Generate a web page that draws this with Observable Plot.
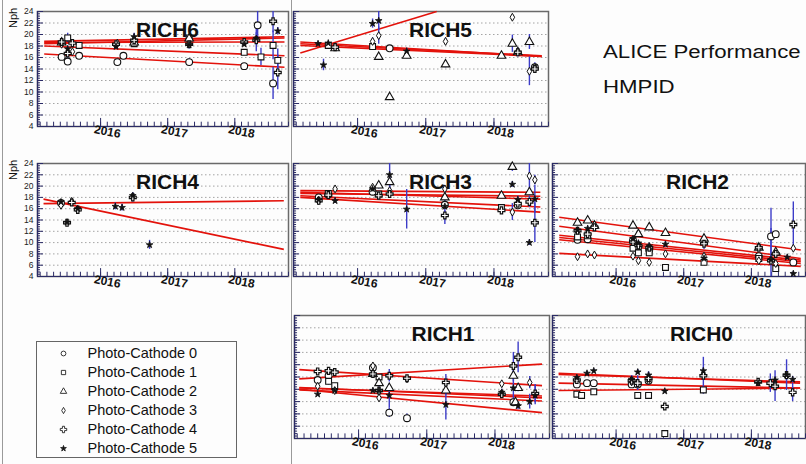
<!DOCTYPE html>
<html><head><meta charset="utf-8">
<script src="https://cdn.jsdelivr.net/npm/d3@7"></script>
<script src="https://cdn.jsdelivr.net/npm/@observablehq/plot@0.6"></script>
<style>
body{margin:0;background:#fff;}
#c{position:relative;width:806px;height:464px;overflow:hidden;background:#fdfdfd;font-family:"Liberation Sans",Arial,sans-serif;}
.abs{position:absolute;}
.big{font-size:17.5px;color:#111;transform-origin:left center;transform:scaleX(1.27);white-space:nowrap;}
.nph{font-size:11px;color:#111;transform:rotate(-90deg);transform-origin:center;}
</style></head><body><div id="c"></div>
<script>
// ---------------- DATA ----------------
const cathodes = ["Photo-Cathode 0","Photo-Cathode 1","Photo-Cathode 2","Photo-Cathode 3","Photo-Cathode 4","Photo-Cathode 5"];
const yearTicks = [2016, 2017, 2018];
const nphTicks = [4,6,8,10,12,14,16,18,20,22,24];
const xDomain = [2015.06, 2018.8];
const yDomain = [4, 24];

// rows: [cathode, year, Nph, error]
const rich6 = [
 [0,2015.42,16.1,0.3],[0,2015.51,15.3,0.6],[0,2015.68,16.3,0.3],[0,2016.25,15.2,0.3],[0,2016.34,16.3,0.4],[0,2017.32,15.2,0.6],[0,2018.14,14.5,0.3],[0,2018.34,21.6,2.6],[0,2018.57,11.5,2.8],
 [1,2015.51,19.4,0.8],[1,2015.68,18.1,0.3],[1,2016.50,18.4,0.5],[1,2017.32,19.4,0.5],[1,2018.14,16.9,0.3],[1,2018.39,16.1,1.5],[1,2018.57,18.1,2.5],[1,2018.64,15.5,2.0],
 [2,2015.42,18.6,0.3],[2,2016.50,18.6,0.5],[2,2017.32,19.3,0.4],
 [3,2015.42,18.3,0.3],[3,2015.58,17.0,0.3],[3,2016.25,18.5,0.4],
 [4,2015.42,18.7,0.3],[4,2015.51,16.7,0.8],[4,2015.58,18.5,0.3],[4,2016.23,18.3,0.6],[4,2016.50,19.0,1.0],[4,2017.32,18.3,0.8],[4,2018.14,18.7,0.5],[4,2018.32,19.0,2.0],[4,2018.57,22.3,2.0],[4,2018.64,13.4,3.0],
 [5,2015.51,17.5,0.5],[5,2016.23,17.9,0.5],[5,2016.50,19.6,0.6],[5,2017.32,18.2,0.6],[5,2018.14,18.3,0.4],[5,2018.32,19.3,1.0],[5,2018.64,20.6,0.6]
];
const fit6 = [[2015.16,18.8,2018.74,19.6],[2015.16,18.6,2018.74,18.7],[2015.16,18.0,2018.74,16.3],[2015.16,16.6,2018.74,14.3],[2015.16,18.4,2018.74,19.4]];

const rich5 = [
 [5,2015.42,18.4,0.3],[5,2015.50,14.7,1.0],[5,2015.57,18.5,0.3],[5,2016.22,21.9,0.8],[5,2016.31,22.4,1.6],[5,2016.72,17.1,0.5],
 [2,2015.67,17.6,0.3],[2,2016.31,16.1,0.5],[2,2016.72,16.3,0.5],[2,2017.29,14.8,0.6],[2,2016.47,9.1,0.3],[2,2018.11,16.3,0.3],[2,2018.27,18.4,1.5],[2,2018.35,16.9,0.8],[2,2018.52,18.7,1.3],
 [3,2016.22,18.8,0.6],[3,2016.31,19.8,1.5],[3,2017.29,18.8,0.6],[3,2018.27,23.0,0.3],[3,2018.52,13.6,2.5],[3,2018.60,14.3,0.8],
 [0,2016.47,17.6,0.5],[0,2018.60,14.3,0.5],
 [1,2015.57,18.1,0.3],[1,2016.22,17.9,0.4],
 [4,2015.67,17.8,0.3],[4,2018.35,16.9,0.5],[4,2018.60,14.0,0.6]
];
const fit5 = [[2015.16,16.8,2017.16,24.0],[2015.16,18.7,2018.7,16.2],[2015.16,18.4,2018.7,16.3],[2015.16,18.1,2018.7,16.2]];

const rich4 = [
 [0,2015.41,17.0,0.3],
 [3,2015.41,16.6,0.3],[3,2015.57,17.3,0.3],
 [4,2015.50,13.5,0.6],[4,2015.57,17.1,0.3],[4,2015.66,15.8,0.4],[4,2016.48,18.0,0.8],
 [5,2015.41,17.2,0.3],[5,2015.50,13.6,0.4],[5,2015.66,16.0,0.3],[5,2016.22,16.4,0.6],[5,2016.32,16.2,0.6],[5,2016.48,18.3,0.5],[5,2016.73,9.6,0.8]
];
const fit4 = [[2015.15,16.9,2018.73,17.4],[2015.15,17.7,2018.73,8.8]];

const rich3 = [
 [5,2015.43,17.6,0.3],[5,2015.67,17.4,0.5],[5,2016.22,19.5,0.4],[5,2016.47,22.0,2.5],[5,2016.72,15.9,3.5],[5,2017.28,16.4,3.2],[5,2018.27,20.3,0.5],[5,2018.35,17.6,0.6],[5,2018.52,10.0,0.5],[5,2018.60,17.7,2.5],
 [2,2016.31,20.1,0.6],[2,2016.47,20.7,1.0],[2,2017.28,18.0,0.6],[2,2018.11,18.3,0.3],[2,2018.27,23.4,0.8],[2,2018.52,18.9,0.6],
 [3,2015.43,17.4,0.3],[3,2015.67,19.5,0.4],[3,2016.22,19.8,0.3],[3,2016.47,19.2,0.5],[3,2017.28,19.5,0.5],[3,2018.27,15.4,1.5],[3,2018.52,21.8,2.5],[3,2018.60,21.1,0.8],
 [0,2015.43,18.0,0.3],[0,2015.57,18.5,0.3],[0,2016.22,19.0,0.3],[0,2017.28,16.7,0.5],[0,2018.35,16.6,0.5],
 [1,2015.57,18.7,0.3],[1,2016.31,18.6,0.4],[1,2018.11,16.2,0.4],
 [4,2015.43,17.4,0.3],[4,2015.57,18.4,0.3],[4,2016.31,18.3,0.8],[4,2016.47,18.6,0.8],[4,2017.28,14.8,0.8],[4,2018.11,15.7,0.3],[4,2018.35,16.9,0.6],[4,2018.52,17.2,1.0],[4,2018.60,13.5,3.5]
];
const fit3 = [[2015.16,19.2,2018.68,18.9],[2015.16,18.9,2018.68,17.7],[2015.16,18.3,2018.68,16.3],[2015.16,18.0,2018.68,15.4],[2015.16,18.7,2018.68,18.2]];

const rich2 = [
 [2,2015.43,13.5,0.3],[2,2015.58,13.9,0.3],[2,2015.68,13.0,0.3],[2,2016.25,13.0,0.3],[2,2016.33,11.5,0.4],[2,2016.49,12.7,0.5],[2,2016.73,11.7,0.3],[2,2017.30,10.7,0.6],[2,2018.11,9.1,0.3],[2,2018.36,8.3,0.5],
 [0,2015.43,10.5,0.3],[0,2015.58,10.6,0.3],[0,2016.25,10.4,0.3],[0,2016.33,9.3,0.4],[0,2016.49,8.7,0.5],[0,2018.11,7.6,0.4],[0,2018.29,11.1,5.0],[0,2018.36,11.5,0.4],[0,2018.62,6.5,0.5],
 [1,2015.43,11.0,0.3],[1,2015.58,11.2,0.3],[1,2016.25,9.0,0.3],[1,2016.33,8.2,0.4],[1,2016.49,8.2,0.5],[1,2016.73,5.6,0.3],[1,2017.30,6.5,0.5],[1,2018.11,7.2,0.4],[1,2018.36,5.4,0.4],
 [3,2015.43,7.5,0.3],[3,2015.58,8.0,0.3],[3,2015.68,7.8,0.3],[3,2016.25,7.6,0.3],[3,2016.33,6.8,0.3],[3,2016.49,6.5,0.3],[3,2016.73,8.0,0.3],[3,2017.30,7.6,0.5],[3,2018.11,6.8,0.3],[3,2018.36,6.3,0.4],[3,2018.62,9.0,0.3],
 [4,2015.43,12.1,0.3],[4,2015.58,11.5,0.3],[4,2015.68,12.7,0.3],[4,2016.25,10.1,0.3],[4,2016.33,9.5,0.5],[4,2016.49,9.1,0.6],[4,2017.30,9.8,1.0],[4,2018.11,9.1,0.4],[4,2018.29,6.8,0.5],[4,2018.36,8.0,0.5],[4,2018.62,13.2,4.0],
 [5,2015.43,12.2,0.3],[5,2015.58,12.5,0.3],[5,2016.25,10.7,0.3],[5,2016.33,9.9,0.4],[5,2016.49,9.4,0.5],[5,2016.73,9.7,0.5],[5,2017.30,7.2,0.5],[5,2018.29,7.0,5.5],[5,2018.53,7.4,0.4],[5,2018.62,4.5,0.3]
];
const fit2 = [[2015.16,14.5,2018.73,8.7],[2015.16,12.9,2018.73,7.2],[2015.16,11.3,2018.73,6.9],[2015.16,10.9,2018.73,6.6],[2015.16,10.5,2018.73,6.3],[2015.16,8.1,2018.73,5.8]];

const rich1 = [
 [0,2015.40,13.5,0.3],[0,2015.56,14.2,0.3],[0,2016.21,15.5,0.3],[0,2016.45,8.2,0.8],[0,2016.71,7.3,0.7],[0,2018.27,9.9,0.5],
 [1,2015.56,13.3,0.6],[1,2015.65,12.6,0.3],[1,2016.30,14.0,0.3],
 [2,2016.21,14.5,0.3],[2,2016.30,13.0,0.5],[2,2016.45,12.2,0.6],[2,2017.28,11.8,0.8],[2,2018.27,14.2,1.0],[2,2018.34,12.2,0.6],[2,2018.30,9.9,0.4],
 [3,2015.40,12.5,0.3],[3,2015.65,11.8,0.3],[3,2016.21,15.8,0.3],[3,2016.30,10.6,0.4],[3,2016.71,13.7,0.3],[3,2018.10,12.9,0.4],[3,2018.51,13.1,1.0],
 [4,2015.40,14.9,0.3],[4,2015.56,15.0,0.3],[4,2015.65,14.8,0.3],[4,2016.21,14.5,0.4],[4,2016.30,11.8,0.6],[4,2016.45,14.2,1.0],[4,2016.71,13.8,0.3],[4,2017.28,13.1,1.3],[4,2018.10,11.2,0.5],[4,2018.27,15.8,2.2],[4,2018.34,17.2,2.5],[4,2018.59,11.3,1.5],
 [5,2015.40,11.2,0.3],[5,2015.65,11.8,0.3],[5,2016.21,11.8,0.3],[5,2016.30,11.8,0.4],[5,2016.45,11.0,2.0],[5,2017.28,9.5,2.5],[5,2018.10,11.5,0.5],[5,2018.27,12.2,2.0],[5,2018.34,9.3,0.6],[5,2018.51,10.0,1.2],[5,2018.59,11.0,1.5]
];
const fit1 = [[2015.13,15.2,2018.69,12.6],[2015.13,13.7,2018.69,16.1],[2015.13,12.3,2018.69,10.6],[2015.13,11.9,2018.69,10.1],[2015.13,12.0,2018.69,8.2],[2015.13,12.2,2018.69,10.9]];

const rich0 = [
 [5,2015.42,13.9,0.3],[5,2015.57,14.6,0.3],[5,2015.67,15.0,0.3],[5,2016.23,13.6,0.6],[5,2016.32,14.8,0.4],[5,2016.48,14.3,0.5],[5,2016.72,11.7,0.3],[5,2017.29,15.0,0.5],[5,2018.10,13.0,0.4],[5,2018.35,13.5,0.5],[5,2018.52,14.3,0.5],[5,2018.61,13.6,0.5],
 [0,2015.42,12.8,0.3],[0,2015.57,13.0,0.3],[0,2015.67,13.0,0.3],[0,2016.23,12.8,0.3],[0,2016.32,12.8,0.3],[0,2016.48,13.4,0.3],
 [1,2015.42,11.2,0.3],[1,2015.49,11.0,0.3],[1,2015.67,11.6,0.3],[1,2016.32,11.0,0.3],[1,2016.48,11.0,0.3],[1,2016.72,4.8,0.3],[1,2017.29,11.9,0.5],
 [3,2016.48,13.4,0.3],[3,2016.23,13.2,0.3],
 [4,2015.42,13.5,0.3],[4,2016.23,13.4,0.8],[4,2016.32,13.0,1.2],[4,2016.48,13.8,1.0],[4,2016.72,9.2,0.3],[4,2017.29,14.2,3.0],[4,2018.10,13.2,0.3],[4,2018.28,13.0,1.5],[4,2018.35,12.5,2.5],[4,2018.52,14.3,2.5],[4,2018.61,11.5,1.5]
];
const fit0 = [[2015.15,14.6,2018.72,13.0],[2015.15,14.4,2018.72,13.2],[2015.15,13.0,2018.72,12.2],[2015.15,11.8,2018.72,12.2]];

// ---------------- STYLE ----------------
const symbols = [
  {symbol:"circle",  r:3.4, fill:"white", sw:1.1, lr:2.4},
  {symbol:"square",  r:3.3, fill:"white", sw:1.1, lr:2.4},
  {symbol:"triangle",r:3.2, fill:"white", sw:1.1, lr:2.4},
  {symbol:"diamond", r:2.4, fill:"white", sw:1.0, lr:1.9},
  {symbol:"cross",   r:2.9, fill:"white", sw:1.2, lr:2.7},
  {symbol:"star",    r:2.1, fill:"#111",  sw:0.8, lr:1.8}
];
const AX = "#2b2b66", ERR = "#3c3cc8", FIT = "#e3120b";

const container = document.getElementById("c");

function panel(name, pts, fits, fr, showY, titleDx) {
  const mL = 30, mT = 6, mR = 4, mB = 22;
  const W = fr.r - fr.l, H = fr.b - fr.t;
  const rows = pts.map(([c, x, y, e]) => ({c, x, y, e}));
  const lines = fits.map(([x1, y1, x2, y2]) => ({x1, y1, x2, y2}));
  const minorX = d3.range(2015.1, 2018.8, 0.1);
  const minorY = d3.range(4, 24.01, 0.4);
  const marks = [
    Plot.ruleY(nphTicks.slice(1, -1), {y: d => d, stroke: "#9a9a9a", strokeDasharray: "1.5,2.5", strokeWidth: 0.9}),
    Plot.frame({stroke: "#6a6a6a", strokeWidth: 1.5}),
    Plot.ruleY([yDomain[0]], {stroke: AX, strokeWidth: 1.2}),
    Plot.ruleX([xDomain[0]], {stroke: AX, strokeWidth: 1.2}),
    Plot.ruleX(minorX, {x: d => d, y1: 4, y2: 4.75, stroke: AX, strokeWidth: 1}),
    Plot.ruleX(yearTicks, {x: d => d, y1: 4, y2: 5.4, stroke: AX, strokeWidth: 1}),
    Plot.ruleY(minorY, {y: d => d, x1: xDomain[0], x2: xDomain[0] + 0.045, stroke: AX, strokeWidth: 1}),
    Plot.ruleY(nphTicks, {y: d => d, x1: xDomain[0], x2: xDomain[0] + 0.09, stroke: AX, strokeWidth: 1}),
    Plot.text(yearTicks, {x: d => d, frameAnchor: "bottom", dy: 9, dx: 6, rotate: 11, fontWeight: "bold", fontSize: 12, fill: "#111", text: d => String(d)}),
    Plot.link(lines, {x1: "x1", y1: "y1", x2: "x2", y2: "y2", stroke: FIT, strokeWidth: 1.6}),
    Plot.ruleX(rows.filter(d => d.e > 0), {x: "x", y1: d => Math.max(4, d.y - d.e), y2: d => Math.min(24, d.y + d.e), stroke: ERR, strokeWidth: 1.4})
  ];
  symbols.forEach((s, i) => {
    marks.push(Plot.dot(rows.filter(d => d.c === i), {x: "x", y: "y", symbol: s.symbol, r: s.r, fill: s.fill, stroke: "#111", strokeWidth: s.sw}));
  });
  if (showY) marks.push(Plot.text(nphTicks, {y: d => d, frameAnchor: "left", dx: -4, textAnchor: "end", fontSize: 8.5, fill: "#222", text: d => String(d)}));
  marks.push(Plot.text([name], {frameAnchor: "top", dy: 10.5, dx: titleDx, fontSize: 21, fontWeight: "bold", fill: "#111", text: d => d}));
  const svg = Plot.plot({
    width: W + mL + mR, height: H + mT + mB,
    marginLeft: mL, marginTop: mT, marginRight: mR, marginBottom: mB,
    x: {domain: xDomain, axis: null},
    y: {domain: yDomain, axis: null},
    style: {background: "transparent", overflow: "visible", fontFamily: "'Liberation Sans', Arial, sans-serif"},
    marks
  });
  svg.style.position = "absolute";
  svg.style.left = (fr.l - mL) + "px";
  svg.style.top = (fr.t - mT) + "px";
  svg.style.maxWidth = "none";
  container.appendChild(svg);
}

// pad separators
function vline(x, y0, y1) {
  const d = document.createElement("div");
  d.className = "abs";
  d.style.cssText = `left:${x}px;top:${y0}px;width:1px;height:${y1 - y0}px;background:#9a9a9a;`;
  container.appendChild(d);
}
vline(2, 0, 464);
vline(291, 0, 464);

panel("RICH6", rich6, fit6, {l: 37, r: 288, t: 11, b: 126}, true, 4.5);
panel("RICH5", rich5, fit5, {l: 293, r: 548, t: 11, b: 126}, false, 19.5);
panel("RICH4", rich4, fit4, {l: 37, r: 288, t: 163, b: 276}, true, 4.5);
panel("RICH3", rich3, fit3, {l: 293, r: 548, t: 163, b: 276}, false, 19.5);
panel("RICH2", rich2, fit2, {l: 552, r: 805, t: 163, b: 276}, false, 18.5);
panel("RICH1", rich1, fit1, {l: 294, r: 549, t: 315, b: 438}, false, 21);
panel("RICH0", rich0, fit0, {l: 552, r: 805, t: 315, b: 438}, false, 22.5);

// Nph axis titles
[{y: 19}, {y: 171}].forEach(p => {
  const d = document.createElement("div");
  d.className = "abs nph";
  d.textContent = "Nph";
  d.style.left = "3px"; d.style.top = (p.y - 7) + "px"; d.style.width = "20px"; d.style.textAlign = "center";
  container.appendChild(d);
});

// Performance labels
[["ALICE Performance", 52], ["HMPID", 87]].forEach(([t, y]) => {
  const d = document.createElement("div");
  d.className = "abs big";
  d.textContent = t;
  d.style.left = "603px"; d.style.top = (y - 10) + "px";
  container.appendChild(d);
});

// Legend
const leg = document.createElement("div");
leg.className = "abs";
leg.style.cssText = "left:36px;top:341px;width:201px;height:117px;border:1px solid #666;background:#fdfdfd;box-sizing:border-box;";
const legSvg = Plot.plot({
  width: 199, height: 115, marginTop: 10, marginBottom: 9, marginLeft: 0, marginRight: 0,
  y: {type: "point", domain: cathodes, axis: null, padding: 0},
  style: {background: "transparent", fontFamily: "'Liberation Sans', Arial, sans-serif"},
  marks: [
    ...symbols.map((s, i) => Plot.dot([cathodes[i]], {y: d => d, frameAnchor: "left", dx: 26, symbol: s.symbol, r: s.lr, fill: s.fill, stroke: "#222", strokeWidth: 0.9})),
    Plot.text(cathodes, {y: d => d, frameAnchor: "left", dx: 50, textAnchor: "start", fontSize: 14.5, fill: "#111", text: d => d})
  ]
});
leg.appendChild(legSvg);
container.appendChild(leg);
</script>
</body></html>
